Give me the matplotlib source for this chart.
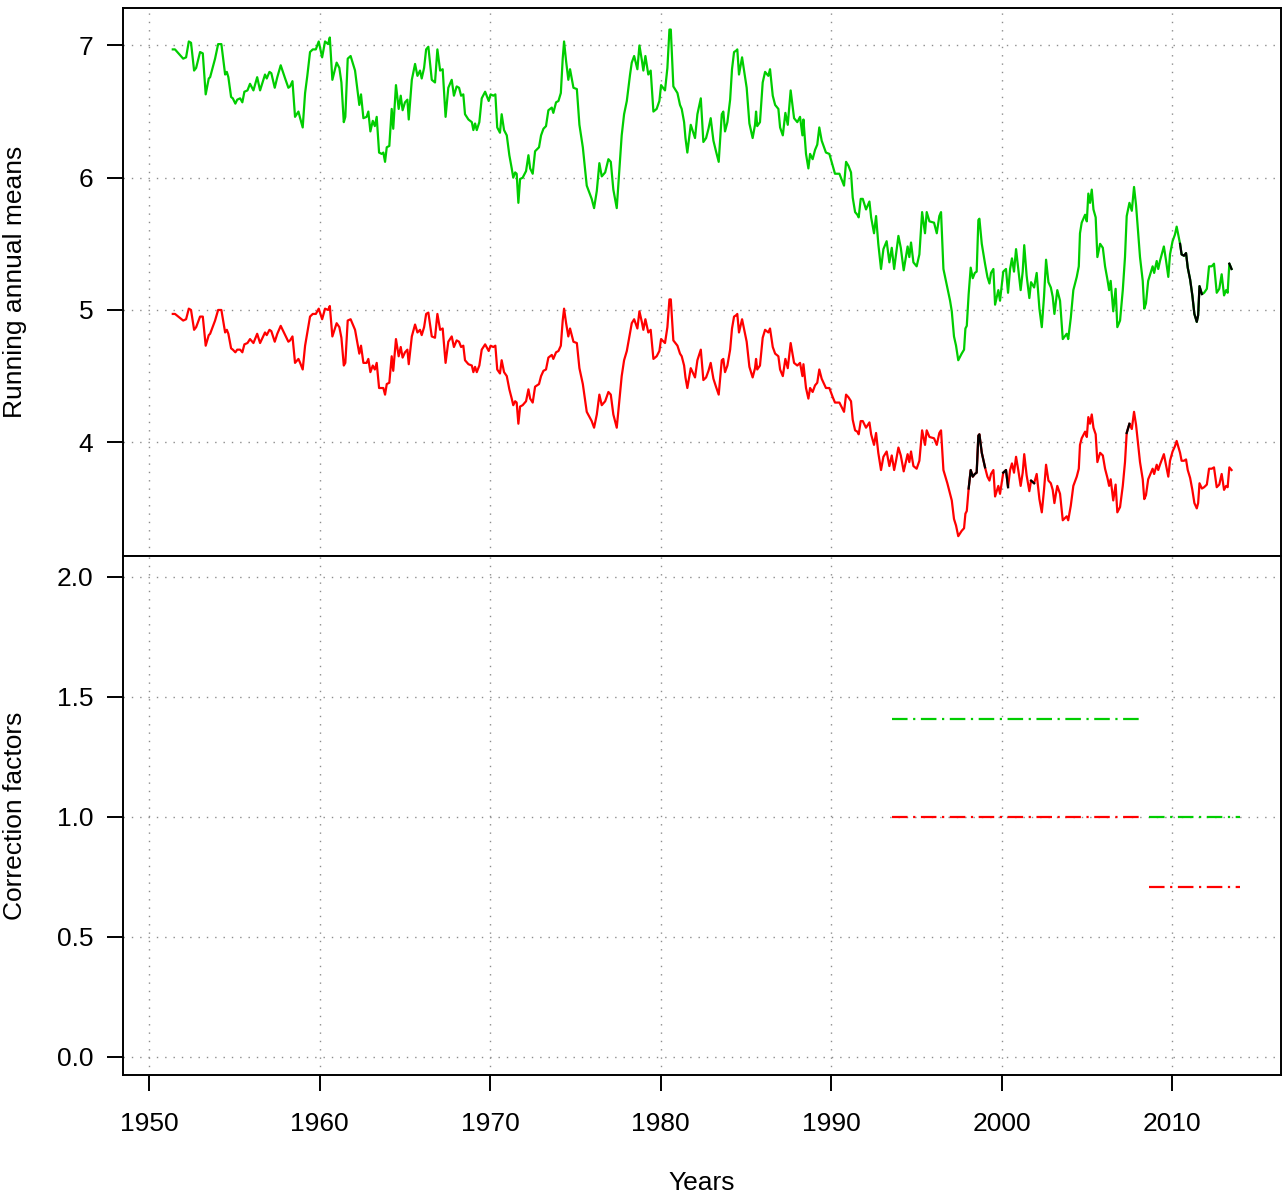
import matplotlib
matplotlib.use("Agg")
import matplotlib.pyplot as plt
import numpy as np

plt.rcParams['font.family'] = ['Liberation Sans', 'DejaVu Sans']

# running annual means (turning points)
years = [
    1951.39, 1951.52, 1952.00, 1952.17, 1952.33, 1952.46, 1952.64, 1952.76, 1952.99, 1953.15,
    1953.32, 1953.50, 1953.58, 1953.87, 1954.05, 1954.24, 1954.46, 1954.56, 1954.65, 1954.81,
    1954.91, 1955.06, 1955.17, 1955.34, 1955.47, 1955.59, 1955.77, 1955.92, 1956.12, 1956.34,
    1956.51, 1956.80, 1956.90, 1957.06, 1957.17, 1957.37, 1957.52, 1957.72, 1957.98, 1958.17,
    1958.27, 1958.41, 1958.56, 1958.76, 1958.86, 1959.01, 1959.15, 1959.28, 1959.44, 1959.60,
    1959.78, 1959.95, 1960.15, 1960.32, 1960.50, 1960.60, 1960.75, 1961.00, 1961.16, 1961.28,
    1961.42, 1961.51, 1961.65, 1961.82, 1962.08, 1962.33, 1962.43, 1962.57, 1962.76, 1962.86,
    1962.98, 1963.12, 1963.24, 1963.35, 1963.49, 1963.64, 1963.74, 1963.84, 1963.94, 1964.09,
    1964.23, 1964.32, 1964.48, 1964.64, 1964.76, 1964.87, 1965.01, 1965.15, 1965.23, 1965.41,
    1965.60, 1965.74, 1965.89, 1965.99, 1966.13, 1966.25, 1966.38, 1966.58, 1966.77, 1966.91,
    1967.07, 1967.22, 1967.39, 1967.55, 1967.75, 1967.88, 1968.04, 1968.18, 1968.30, 1968.43,
    1968.53, 1968.73, 1968.93, 1969.02, 1969.12, 1969.22, 1969.37, 1969.51, 1969.71, 1969.92,
    1970.03, 1970.19, 1970.31, 1970.42, 1970.58, 1970.68, 1970.82, 1970.98, 1971.13, 1971.27,
    1971.36, 1971.47, 1971.56, 1971.66, 1971.76, 1971.91, 1972.11, 1972.25, 1972.35, 1972.50,
    1972.64, 1972.87, 1972.99, 1973.13, 1973.28, 1973.42, 1973.62, 1973.71, 1973.87, 1974.01,
    1974.15, 1974.26, 1974.34, 1974.46, 1974.59, 1974.69, 1974.89, 1975.09, 1975.24, 1975.44,
    1975.67, 1975.96, 1976.10, 1976.26, 1976.41, 1976.55, 1976.75, 1976.94, 1977.08, 1977.23,
    1977.43, 1977.59, 1977.72, 1977.86, 1978.02, 1978.21, 1978.31, 1978.45, 1978.64, 1978.76,
    1978.90, 1978.99, 1979.11, 1979.28, 1979.42, 1979.58, 1979.77, 1979.93, 1980.03, 1980.26,
    1980.40, 1980.52, 1980.60, 1980.75, 1980.99, 1981.14, 1981.24, 1981.38, 1981.46, 1981.57,
    1981.77, 1982.02, 1982.16, 1982.36, 1982.51, 1982.67, 1982.81, 1982.94, 1983.10, 1983.25,
    1983.41, 1983.59, 1983.68, 1983.78, 1983.92, 1984.08, 1984.19, 1984.31, 1984.43, 1984.50,
    1984.60, 1984.78, 1985.05, 1985.21, 1985.40, 1985.54, 1985.60, 1985.67, 1985.83, 1985.99,
    1986.13, 1986.32, 1986.42, 1986.58, 1986.72, 1986.91, 1987.01, 1987.17, 1987.32, 1987.46,
    1987.63, 1987.83, 1988.02, 1988.18, 1988.32, 1988.38, 1988.53, 1988.67, 1988.77, 1988.92,
    1989.06, 1989.19, 1989.31, 1989.45, 1989.70, 1989.90, 1990.10, 1990.23, 1990.49, 1990.76,
    1990.88, 1991.02, 1991.17, 1991.27, 1991.41, 1991.54, 1991.62, 1991.74, 1991.86, 1992.05,
    1992.25, 1992.35, 1992.52, 1992.64, 1992.77, 1992.93, 1993.07, 1993.26, 1993.42, 1993.56,
    1993.70, 1993.81, 1993.95, 1994.09, 1994.26, 1994.49, 1994.59, 1994.69, 1994.83, 1995.02,
    1995.18, 1995.34, 1995.51, 1995.61, 1995.77, 1996.04, 1996.20, 1996.35, 1996.45, 1996.59,
    1996.82, 1996.98, 1997.08, 1997.21, 1997.33, 1997.46, 1997.66, 1997.80, 1997.88, 1997.96,
    1998.07, 1998.19, 1998.31, 1998.43, 1998.54, 1998.64, 1998.70, 1998.84, 1999.03, 1999.17,
    1999.29, 1999.38, 1999.52, 1999.62, 1999.81, 1999.91, 2000.10, 2000.26, 2000.38, 2000.50,
    2000.61, 2000.73, 2000.85, 2000.98, 2001.12, 2001.24, 2001.33, 2001.47, 2001.63, 2001.73,
    2001.91, 2002.06, 2002.22, 2002.36, 2002.49, 2002.61, 2002.75, 2002.89, 2003.00, 2003.10,
    2003.20, 2003.27, 2003.43, 2003.59, 2003.82, 2003.91, 2004.06, 2004.21, 2004.41, 2004.53,
    2004.60, 2004.70, 2004.90, 2005.00, 2005.09, 2005.19, 2005.29, 2005.39, 2005.52, 2005.62,
    2005.78, 2005.94, 2006.07, 2006.21, 2006.31, 2006.40, 2006.55, 2006.69, 2006.79, 2006.95,
    2007.11, 2007.24, 2007.34, 2007.50, 2007.64, 2007.77, 2007.89, 2008.12, 2008.28, 2008.37,
    2008.47, 2008.60, 2008.86, 2008.95, 2009.10, 2009.19, 2009.29, 2009.52, 2009.64, 2009.78,
    2009.88, 2010.03, 2010.17, 2010.27, 2010.47, 2010.56, 2010.70, 2010.82, 2010.92, 2011.06,
    2011.19, 2011.31, 2011.45, 2011.53, 2011.61, 2011.75, 2011.88, 2012.04, 2012.17, 2012.33,
    2012.46, 2012.62, 2012.77, 2012.91, 2013.05, 2013.17, 2013.26, 2013.36, 2013.49,
]

green_means = [
    6.97, 6.97, 6.90, 6.91, 7.03, 7.02, 6.81, 6.83, 6.95, 6.94,
    6.63, 6.75, 6.76, 6.90, 7.01, 7.01, 6.78, 6.80, 6.76, 6.61,
    6.60, 6.56, 6.59, 6.60, 6.57, 6.65, 6.66, 6.71, 6.66, 6.76,
    6.66, 6.78, 6.75, 6.80, 6.79, 6.68, 6.76, 6.85, 6.75, 6.68,
    6.69, 6.73, 6.46, 6.50, 6.45, 6.38, 6.64, 6.77, 6.95, 6.97,
    6.97, 7.03, 6.91, 7.03, 7.01, 7.06, 6.74, 6.87, 6.83, 6.72,
    6.42, 6.46, 6.90, 6.92, 6.81, 6.55, 6.63, 6.45, 6.46, 6.50,
    6.35, 6.43, 6.39, 6.46, 6.19, 6.18, 6.19, 6.12, 6.23, 6.24,
    6.52, 6.37, 6.70, 6.52, 6.62, 6.51, 6.57, 6.59, 6.44, 6.74,
    6.86, 6.77, 6.81, 6.75, 6.83, 6.97, 6.99, 6.74, 6.72, 6.97,
    6.81, 6.82, 6.46, 6.68, 6.74, 6.62, 6.69, 6.68, 6.62, 6.63,
    6.48, 6.44, 6.42, 6.36, 6.41, 6.36, 6.42, 6.60, 6.65, 6.58,
    6.63, 6.62, 6.63, 6.38, 6.34, 6.48, 6.36, 6.32, 6.17, 6.07,
    6.00, 6.04, 6.03, 5.81, 5.99, 6.00, 6.05, 6.17, 6.07, 6.03,
    6.20, 6.23, 6.32, 6.37, 6.39, 6.51, 6.53, 6.49, 6.57, 6.58,
    6.64, 6.90, 7.03, 6.88, 6.74, 6.82, 6.68, 6.67, 6.40, 6.23,
    5.94, 5.84, 5.77, 5.90, 6.11, 6.01, 6.04, 6.14, 6.12, 5.91,
    5.77, 6.07, 6.32, 6.48, 6.58, 6.78, 6.87, 6.92, 6.82, 7.00,
    6.89, 6.81, 6.92, 6.78, 6.81, 6.50, 6.52, 6.58, 6.70, 6.66,
    6.83, 7.12, 7.12, 6.69, 6.64, 6.55, 6.52, 6.42, 6.30, 6.19,
    6.40, 6.30, 6.48, 6.60, 6.27, 6.30, 6.37, 6.45, 6.28, 6.20,
    6.12, 6.48, 6.50, 6.35, 6.42, 6.59, 6.82, 6.95, 6.96, 6.97,
    6.78, 6.91, 6.68, 6.41, 6.30, 6.40, 6.50, 6.39, 6.42, 6.72,
    6.80, 6.77, 6.82, 6.62, 6.55, 6.52, 6.38, 6.32, 6.49, 6.40,
    6.66, 6.45, 6.42, 6.46, 6.32, 6.44, 6.18, 6.07, 6.18, 6.14,
    6.21, 6.25, 6.38, 6.28, 6.19, 6.18, 6.09, 6.03, 6.03, 5.94,
    6.12, 6.09, 6.04, 5.85, 5.74, 5.72, 5.70, 5.84, 5.84, 5.76,
    5.82, 5.70, 5.58, 5.71, 5.50, 5.31, 5.46, 5.52, 5.36, 5.47,
    5.31, 5.42, 5.56, 5.47, 5.30, 5.48, 5.40, 5.51, 5.36, 5.33,
    5.42, 5.74, 5.58, 5.74, 5.67, 5.66, 5.58, 5.71, 5.74, 5.31,
    5.17, 5.07, 4.99, 4.80, 4.73, 4.62, 4.67, 4.70, 4.86, 4.88,
    5.12, 5.32, 5.24, 5.28, 5.29, 5.68, 5.69, 5.50, 5.35, 5.25,
    5.20, 5.28, 5.31, 5.04, 5.15, 5.07, 5.29, 5.31, 5.13, 5.31,
    5.39, 5.29, 5.46, 5.31, 5.15, 5.29, 5.49, 5.26, 5.09, 5.21,
    5.17, 5.28, 5.01, 4.87, 5.10, 5.38, 5.21, 5.17, 5.10, 4.97,
    5.08, 5.15, 5.07, 4.78, 4.82, 4.78, 4.94, 5.15, 5.25, 5.33,
    5.58, 5.66, 5.72, 5.67, 5.88, 5.81, 5.91, 5.76, 5.70, 5.40,
    5.50, 5.47, 5.33, 5.23, 5.15, 5.22, 4.99, 5.16, 4.87, 4.92,
    5.15, 5.40, 5.71, 5.81, 5.75, 5.93, 5.79, 5.40, 5.22, 5.01,
    5.05, 5.22, 5.33, 5.28, 5.37, 5.31, 5.37, 5.48, 5.38, 5.25,
    5.42, 5.52, 5.57, 5.63, 5.50, 5.42, 5.41, 5.43, 5.32, 5.23,
    5.11, 4.97, 4.91, 4.96, 5.18, 5.12, 5.13, 5.16, 5.33, 5.33,
    5.35, 5.13, 5.16, 5.27, 5.11, 5.15, 5.13, 5.35, 5.31,
]

red_means = [
    4.97, 4.97, 4.92, 4.93, 5.01, 5.00, 4.85, 4.87, 4.95, 4.95,
    4.73, 4.81, 4.82, 4.92, 5.00, 5.00, 4.83, 4.85, 4.82, 4.71,
    4.70, 4.68, 4.70, 4.70, 4.68, 4.74, 4.75, 4.78, 4.75, 4.82,
    4.75, 4.83, 4.81, 4.85, 4.84, 4.76, 4.82, 4.88, 4.81, 4.76,
    4.77, 4.80, 4.60, 4.63, 4.60, 4.55, 4.73, 4.83, 4.95, 4.97,
    4.97, 5.01, 4.93, 5.01, 5.00, 5.03, 4.80, 4.90, 4.87, 4.79,
    4.58, 4.60, 4.92, 4.93, 4.85, 4.67, 4.73, 4.60, 4.60, 4.63,
    4.53, 4.58, 4.55, 4.60, 4.41, 4.41, 4.41, 4.36, 4.44, 4.45,
    4.65, 4.54, 4.78, 4.65, 4.72, 4.64, 4.68, 4.70, 4.59, 4.80,
    4.89, 4.83, 4.85, 4.81, 4.87, 4.97, 4.98, 4.80, 4.79, 4.97,
    4.85, 4.86, 4.60, 4.76, 4.80, 4.72, 4.77, 4.76, 4.72, 4.73,
    4.62, 4.59, 4.58, 4.53, 4.57, 4.53, 4.58, 4.70, 4.74, 4.69,
    4.73, 4.72, 4.73, 4.55, 4.52, 4.62, 4.53, 4.50, 4.40, 4.33,
    4.28, 4.31, 4.30, 4.14, 4.27, 4.28, 4.31, 4.40, 4.33, 4.30,
    4.42, 4.44, 4.50, 4.54, 4.55, 4.64, 4.66, 4.63, 4.68, 4.69,
    4.73, 4.92, 5.01, 4.90, 4.80, 4.86, 4.76, 4.75, 4.56, 4.44,
    4.23, 4.16, 4.11, 4.21, 4.36, 4.28, 4.31, 4.38, 4.36, 4.21,
    4.11, 4.33, 4.50, 4.62, 4.69, 4.83, 4.90, 4.93, 4.86, 4.99,
    4.91, 4.85, 4.93, 4.83, 4.85, 4.63, 4.65, 4.69, 4.78, 4.75,
    4.87, 5.08, 5.08, 4.77, 4.73, 4.67, 4.65, 4.58, 4.49, 4.41,
    4.56, 4.49, 4.62, 4.70, 4.47, 4.49, 4.54, 4.60, 4.48, 4.42,
    4.36, 4.62, 4.63, 4.53, 4.58, 4.70, 4.86, 4.95, 4.96, 4.97,
    4.83, 4.93, 4.76, 4.57, 4.49, 4.56, 4.63, 4.55, 4.58, 4.79,
    4.85, 4.83, 4.86, 4.72, 4.67, 4.65, 4.55, 4.50, 4.63, 4.56,
    4.75, 4.60, 4.58, 4.60, 4.50, 4.59, 4.41, 4.33, 4.41, 4.38,
    4.43, 4.45, 4.55, 4.48, 4.41, 4.41, 4.34, 4.30, 4.30, 4.23,
    4.36, 4.34, 4.31, 4.17, 4.09, 4.08, 4.06, 4.16, 4.16, 4.11,
    4.15, 4.06, 3.98, 4.07, 3.92, 3.79, 3.89, 3.93, 3.82, 3.90,
    3.79, 3.86, 3.96, 3.90, 3.78, 3.91, 3.85, 3.93, 3.82, 3.80,
    3.86, 4.09, 3.98, 4.09, 4.04, 4.03, 3.98, 4.07, 4.09, 3.79,
    3.69, 3.61, 3.56, 3.42, 3.37, 3.29, 3.33, 3.35, 3.46, 3.48,
    3.65, 3.79, 3.74, 3.76, 3.77, 4.05, 4.06, 3.92, 3.81, 3.74,
    3.71, 3.76, 3.79, 3.59, 3.67, 3.61, 3.77, 3.79, 3.66, 3.79,
    3.84, 3.77, 3.89, 3.79, 3.67, 3.77, 3.91, 3.75, 3.63, 3.71,
    3.69, 3.76, 3.57, 3.47, 3.64, 3.83, 3.71, 3.69, 3.64, 3.54,
    3.62, 3.67, 3.61, 3.41, 3.44, 3.41, 3.52, 3.67, 3.74, 3.80,
    3.98, 4.03, 4.08, 4.04, 4.19, 4.14, 4.21, 4.11, 4.06, 3.85,
    3.92, 3.90, 3.80, 3.73, 3.67, 3.72, 3.56, 3.68, 3.47, 3.51,
    3.67, 3.85, 4.07, 4.14, 4.10, 4.23, 4.13, 3.85, 3.72, 3.57,
    3.60, 3.72, 3.80, 3.76, 3.83, 3.79, 3.83, 3.91, 3.83, 3.74,
    3.86, 3.93, 3.97, 4.01, 3.92, 3.86, 3.86, 3.87, 3.79, 3.73,
    3.64, 3.54, 3.50, 3.54, 3.69, 3.65, 3.66, 3.68, 3.80, 3.80,
    3.81, 3.66, 3.68, 3.76, 3.64, 3.67, 3.66, 3.81, 3.79,
]

# periods drawn in black on top of the coloured series
green_black_periods = [(2010.45, 2011.78), (2013.33, 2013.50)]
red_black_periods = [(1998.00, 1999.05), (2000.00, 2000.40), (2001.70, 2001.92), (2007.30, 2007.52)]

# correction factors: (start, end, value)
green_factors = [(1993.56, 2008.22, 1.41), (2008.65, 2013.99, 1.00)]
red_factors = [(1993.56, 2008.22, 1.00), (2008.65, 2013.99, 0.71)]

GREEN = '#00CD00'
RED = '#FF0000'
GRID = dict(color='#8c8c8c', linestyle=(0, (1, 5)), linewidth=1.0)

years = np.array(years)
green_means = np.array(green_means)
red_means = np.array(red_means)

fig = plt.figure(figsize=(12.82, 11.99), dpi=100)
ax1 = fig.add_axes([123 / 1282, 1 - 556 / 1199, 1158 / 1282, 548 / 1199])
ax2 = fig.add_axes([123 / 1282, 1 - 1075 / 1199, 1158 / 1282, 519 / 1199])

xlim = (1948.47, 2016.39)
xticks = [1950, 1960, 1970, 1980, 1990, 2000, 2010]

# top panel
for yv in [4, 5, 6, 7]:
    ax1.axhline(yv, **GRID, zorder=1)
for xv in xticks:
    ax1.axvline(xv, **GRID, zorder=1)

ax1.plot(years, green_means, color=GREEN, lw=1.6, zorder=3)
ax1.plot(years, red_means, color=RED, lw=1.6, zorder=3)
for a, b in green_black_periods:
    m = (years >= a) & (years <= b)
    ax1.plot(years[m], green_means[m], color='black', lw=1.6, zorder=4)
for a, b in red_black_periods:
    m = (years >= a) & (years <= b)
    ax1.plot(years[m], red_means[m], color='black', lw=1.6, zorder=4)

ax1.set_xlim(*xlim)
ax1.set_ylim(3.14, 7.283)
ax1.set_yticks([4, 5, 6, 7])
ax1.set_xticks([])
ax1.set_ylabel('Running annual means', fontsize=19, va='center')
ax1.yaxis.set_label_coords(-108 / 1158, 0.5)

# bottom panel
for yv in [0.0, 0.5, 1.0, 1.5, 2.0]:
    ax2.axhline(yv, **GRID, zorder=1)
for xv in xticks:
    ax2.axvline(xv, **GRID, zorder=1)

dash = (0, (7, 2.5, 1, 2.5))
for a, b, v in green_factors:
    ax2.plot([a, b], [v, v], color=GREEN, lw=1.6, linestyle=dash, zorder=3)
for a, b, v in red_factors:
    ax2.plot([a, b], [v, v], color=RED, lw=1.6, linestyle=dash, zorder=3)

ax2.set_xlim(*xlim)
ax2.set_ylim(-0.075, 2.0875)
ax2.set_yticks([0.0, 0.5, 1.0, 1.5, 2.0])
ax2.set_yticklabels(['0.0', '0.5', '1.0', '1.5', '2.0'])
ax2.set_xticks(xticks)
ax2.set_ylabel('Correction factors', fontsize=19, va='center')
ax2.yaxis.set_label_coords(-108 / 1158, 0.5)
ax2.set_xlabel('Years', fontsize=19, va='center')
ax2.xaxis.set_label_coords(0.5, -108 / 519)

for ax in (ax1, ax2):
    for s in ax.spines.values():
        s.set_linewidth(1.4)
    ax.tick_params(direction='out', length=11.5, width=1.4, labelsize=19, pad=10)
ax2.tick_params(axis='x', pad=15)

fig.savefig('out.png', dpi=100)
